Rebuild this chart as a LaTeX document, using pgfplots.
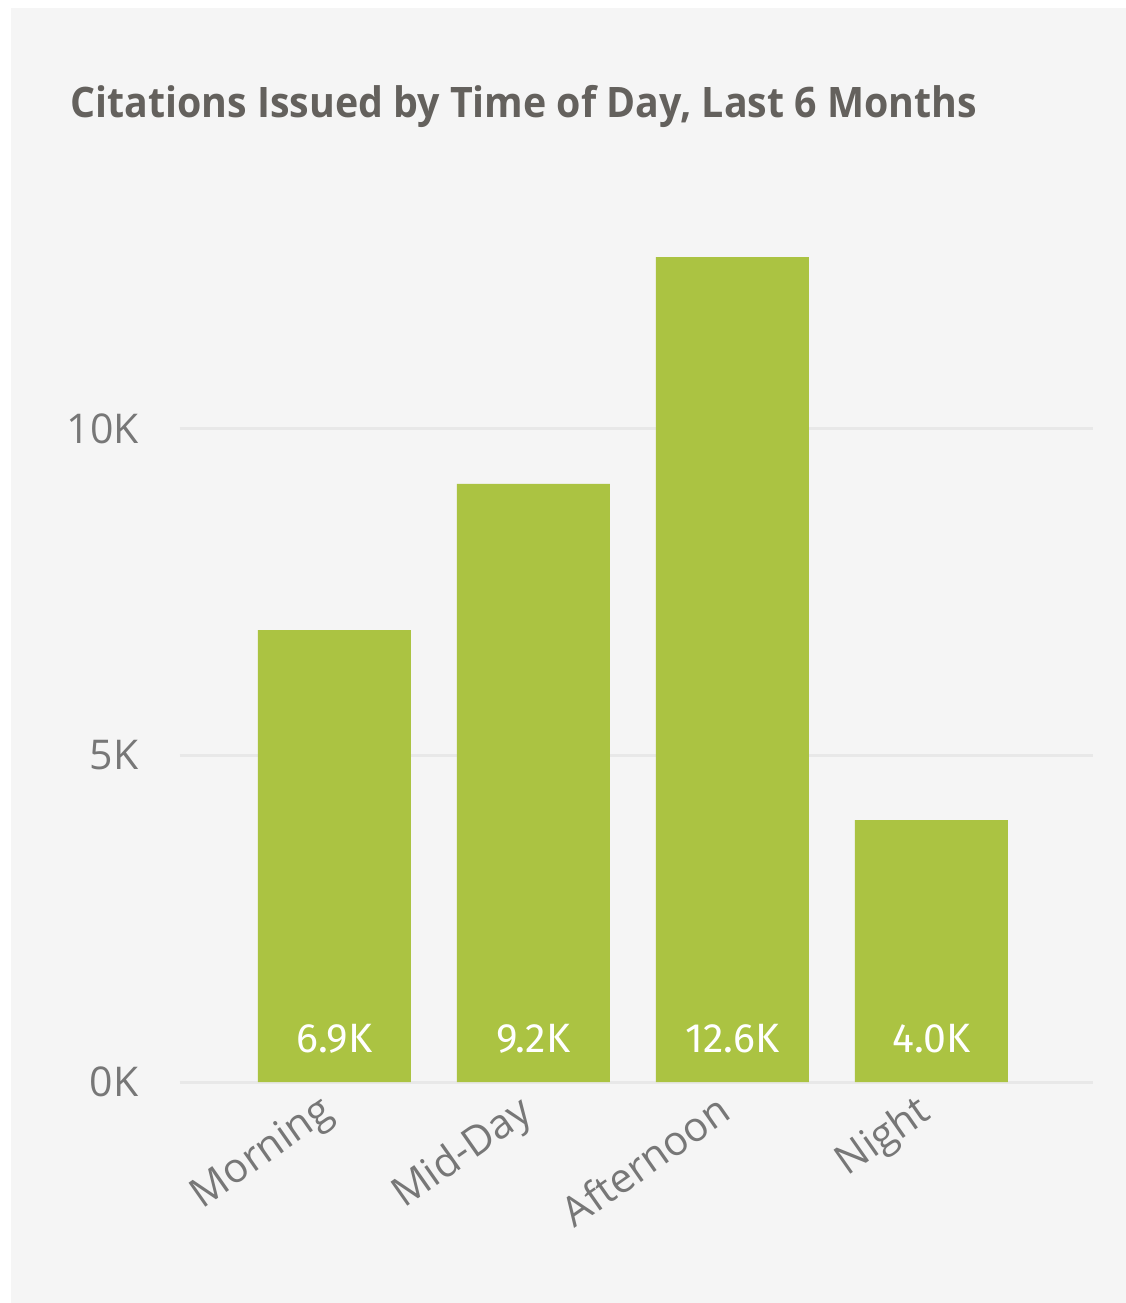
\documentclass[border=0pt]{standalone}
\usepackage{pgfplots}
\pgfplotsset{compat=1.18}
\usepackage{fontspec}
\setmainfont{Open Sans}
\newfontfamily\titlefont[FakeStretch=0.936]{Open Sans}
\newfontfamily\dinfont{Fira Sans}
\definecolor{panel}{HTML}{F5F5F5}
\definecolor{gridc}{HTML}{E8E8E8}
\definecolor{barc}{RGB}{171,195,66}
\definecolor{titlec}{RGB}{100,97,93}
\definecolor{tickc}{HTML}{777777}
\begin{document}
\begin{tikzpicture}
\fill[white] (0,0) rectangle (563pt,-651.5pt);
\fill[panel] (5.5pt,-4pt) rectangle (563pt,-651.5pt);
\node[anchor=base west, inner sep=0pt, text=titlec, font=\titlefont\fontsize{21}{24}\selectfont\bfseries] at (35pt,-58.5pt) {Citations Issued by Time of Day, Last 6 Months};
\begin{axis}[
  at={(90pt,-541pt)}, anchor=south west,
  scale only axis, width=456.5pt, height=424.5pt,
  xmin=-0.776, xmax=3.812, ymin=0, ymax=13000,
  axis line style={draw=none},
  scaled y ticks=false,
  ymajorgrids, grid style={gridc, line width=1.5pt},
  ytick={0,5000,10000}, yticklabels={0K,5K,10K},
  xtick={0,1,2,3}, xticklabels={Morning,Mid-Day,Afternoon,Night},
  major tick length=0pt, tick style={draw=none},
  yticklabel style={anchor=east, inner sep=0pt, xshift=-20.5pt, text=tickc, font=\fontsize{20.5}{24}\selectfont},
  xticklabel style={anchor=north east, inner sep=0pt, rotate=35, xshift=-9.5pt, yshift=1pt, text=tickc, font=\fontsize{20.5}{24}\selectfont},
  clip=false,
]
\addplot[ybar, bar width=76.5pt, fill=barc, draw=none] coordinates {(0,6920) (1,9160) (2,12630) (3,4010)};
\addplot[draw=none, mark=none, nodes near coords, point meta=explicit symbolic,
  nodes near coords style={anchor=base, inner sep=0pt, yshift=15pt, text=white, font=\dinfont\fontsize{20.5}{24}\selectfont}]
  coordinates {(0,0) [6.9K] (1,0) [9.2K] (2,0) [12.6K] (3,0) [4.0K]};
\end{axis}
\pgfresetboundingbox
\useasboundingbox (0,0) rectangle (563pt,-651.5pt);
\end{tikzpicture}
\end{document}
